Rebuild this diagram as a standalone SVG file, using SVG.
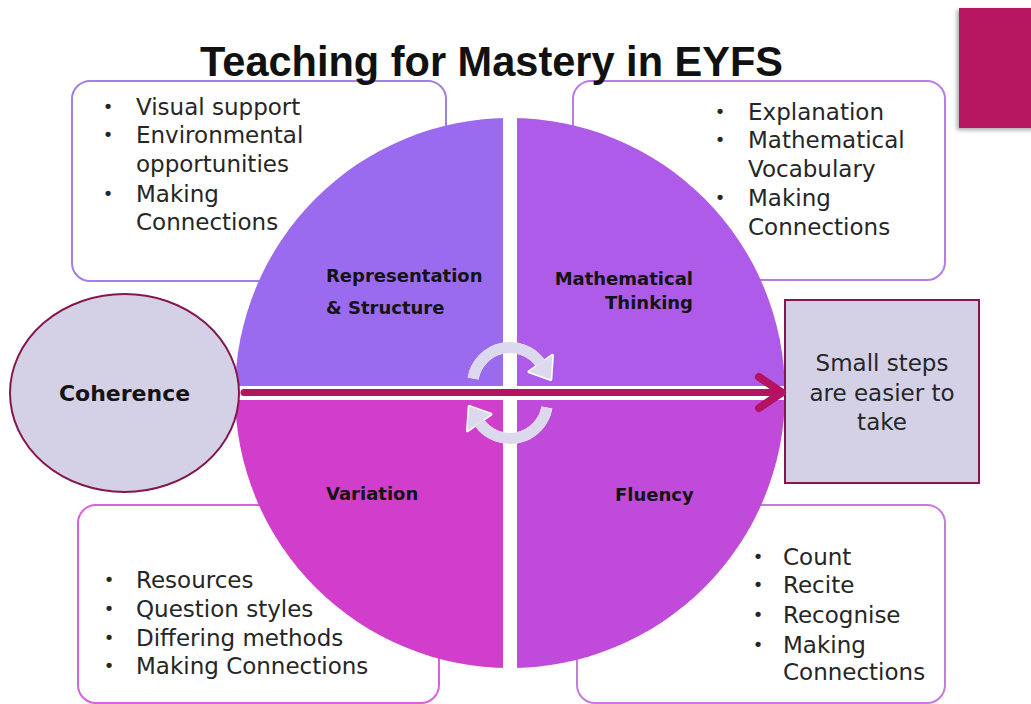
<svg xmlns="http://www.w3.org/2000/svg" xmlns:xlink="http://www.w3.org/1999/xlink" width="1031" height="704" viewBox="0 0 1031 704">
  <style>
    .title { font-family: "Liberation Sans", Arial, sans-serif; font-weight: bold; font-size: 42px; fill: #111; }
    .body { font-family: "DejaVu Sans", "Noto Sans", sans-serif; font-size: 23px; fill: #262626; }
    .bullet { font-family: "DejaVu Sans", "Noto Sans", sans-serif; font-size: 18px; fill: #262626; text-anchor: middle; }
    .label { font-family: "DejaVu Sans", "Noto Sans", sans-serif; font-weight: bold; font-size: 18px; fill: #141414; }
    .label-lg { font-size: 22px; }
    .box { fill: #ffffff; stroke-width: 2; }
    .lav { fill: #d4d0e6; stroke: #84184c; stroke-width: 2; }
    .cycle { fill: none; stroke-width: 11; }
  </style>
  <defs>
    <clipPath id="disc">
      <circle cx="510" cy="393" r="275"/>
    </clipPath>
    <filter id="shadow" x="-20%" y="-20%" width="140%" height="140%">
      <feDropShadow dx="-2" dy="2" stdDeviation="2" flood-color="#000" flood-opacity="0.35"/>
    </filter>
    <!-- one curved cycle arrow; the lower one is the same shape turned half a turn -->
    <g id="cycleArrow">
      <path class="cycle" d="M 473.1 378.5 A 37.5 37.5 0 0 1 540.7 363.5" stroke="#ffffff" stroke-width="14"/>
      <polygon points="552.5,355.2 529.0,371.8 550.8,379.6" fill="#ffffff" stroke="#ffffff" stroke-width="3" stroke-linejoin="round"/>
      <path class="cycle" d="M 473.1 378.5 A 37.5 37.5 0 0 1 540.7 363.5" stroke="#dcd9ef"/>
      <polygon points="552.5,355.2 529.0,371.8 550.8,379.6" fill="#dcd9ef"/>
    </g>
  </defs>

  <rect width="1031" height="704" fill="#ffffff"/>

  <!-- corner accent -->
  <rect x="959" y="8" width="80" height="120" fill="#b5135f" filter="url(#shadow)"/>

  <!-- text boxes behind the wheel -->
  <g id="box-representation">
    <rect class="box" x="72" y="81" width="374" height="200" rx="18" stroke="#a07fe6"/>
    <text class="bullet" x="108" y="113">•</text>
    <text class="body" x="136" y="115">Visual support</text>
    <text class="bullet" x="108" y="141">•</text>
    <text class="body" x="136" y="143">Environmental</text>
    <text class="body" x="136" y="172">opportunities</text>
    <text class="bullet" x="108" y="200">•</text>
    <text class="body" x="136" y="202">Making</text>
    <text class="body" x="136" y="230">Connections</text>
  </g>

  <g id="box-thinking">
    <rect class="box" x="573" y="81" width="372" height="199" rx="18" stroke="#b87ce6"/>
    <text class="bullet" x="720" y="118">•</text>
    <text class="body" x="748" y="120">Explanation</text>
    <text class="bullet" x="720" y="146">•</text>
    <text class="body" x="748" y="148">Mathematical</text>
    <text class="body" x="748" y="177">Vocabulary</text>
    <text class="bullet" x="720" y="204">•</text>
    <text class="body" x="748" y="206">Making</text>
    <text class="body" x="748" y="235">Connections</text>
  </g>

  <g id="box-variation">
    <rect class="box" x="78" y="505" width="361" height="198" rx="18" stroke="#d862d8"/>
    <text class="bullet" x="109" y="586">•</text>
    <text class="body" x="136" y="588">Resources</text>
    <text class="bullet" x="109" y="615">•</text>
    <text class="body" x="136" y="617">Question styles</text>
    <text class="bullet" x="109" y="644">•</text>
    <text class="body" x="136" y="646">Differing methods</text>
    <text class="bullet" x="109" y="672">•</text>
    <text class="body" x="136" y="674">Making Connections</text>
  </g>

  <g id="box-fluency">
    <rect class="box" x="577" y="505" width="368" height="198" rx="18" stroke="#c67ade"/>
    <text class="bullet" x="758" y="563">•</text>
    <text class="body" x="783" y="565">Count</text>
    <text class="bullet" x="758" y="591">•</text>
    <text class="body" x="783" y="593">Recite</text>
    <text class="bullet" x="758" y="621">•</text>
    <text class="body" x="783" y="623">Recognise</text>
    <text class="bullet" x="758" y="651">•</text>
    <text class="body" x="783" y="653">Making</text>
    <text class="body" x="783" y="680">Connections</text>
  </g>

  <text class="title" x="200" y="76" textLength="583" lengthAdjust="spacingAndGlyphs">Teaching for Mastery in EYFS</text>

  <!-- the four-part wheel -->
  <g id="wheel" clip-path="url(#disc)">
    <rect id="q-representation" x="230" y="113" width="273" height="273" fill="#9b6bef"/>
    <rect id="q-thinking" x="517" y="113" width="273" height="273" fill="#ad5be8"/>
    <rect id="q-variation" x="230" y="400" width="273" height="273" fill="#d03ecb"/>
    <rect id="q-fluency" x="517" y="400" width="273" height="273" fill="#c04bda"/>
  </g>

  <g id="labels">
    <text class="label" x="326" y="282">Representation</text>
    <text class="label" x="326" y="314">&amp; Structure</text>
    <text class="label" x="693" y="285" text-anchor="end">Mathematical</text>
    <text class="label" x="693" y="309" text-anchor="end">Thinking</text>
    <text class="label" x="326" y="500">Variation</text>
    <text class="label" x="615" y="501">Fluency</text>
  </g>

  <g id="node-coherence">
    <ellipse class="lav" cx="124.5" cy="393" rx="114.5" ry="99"/>
    <text class="label label-lg" x="124.5" y="401" text-anchor="middle">Coherence</text>
  </g>

  <g id="node-small-steps">
    <rect class="lav" x="785" y="300" width="194" height="183"/>
    <text class="body" x="882" y="371" text-anchor="middle">Small steps</text>
    <text class="body" x="882" y="401" text-anchor="middle">are easier to</text>
    <text class="body" x="882" y="430" text-anchor="middle">take</text>
  </g>

  <g id="connectors">
    <use xlink:href="#cycleArrow"/>
    <use xlink:href="#cycleArrow" transform="rotate(180 510 393)"/>
    <line x1="244" y1="392.5" x2="780" y2="392.5" stroke="#b5135f" stroke-width="7" stroke-linecap="round"/>
    <polyline points="759,377 782,392.5 759,408" fill="none" stroke="#b5135f" stroke-width="8" stroke-linecap="round" stroke-linejoin="round"/>
  </g>
</svg>
